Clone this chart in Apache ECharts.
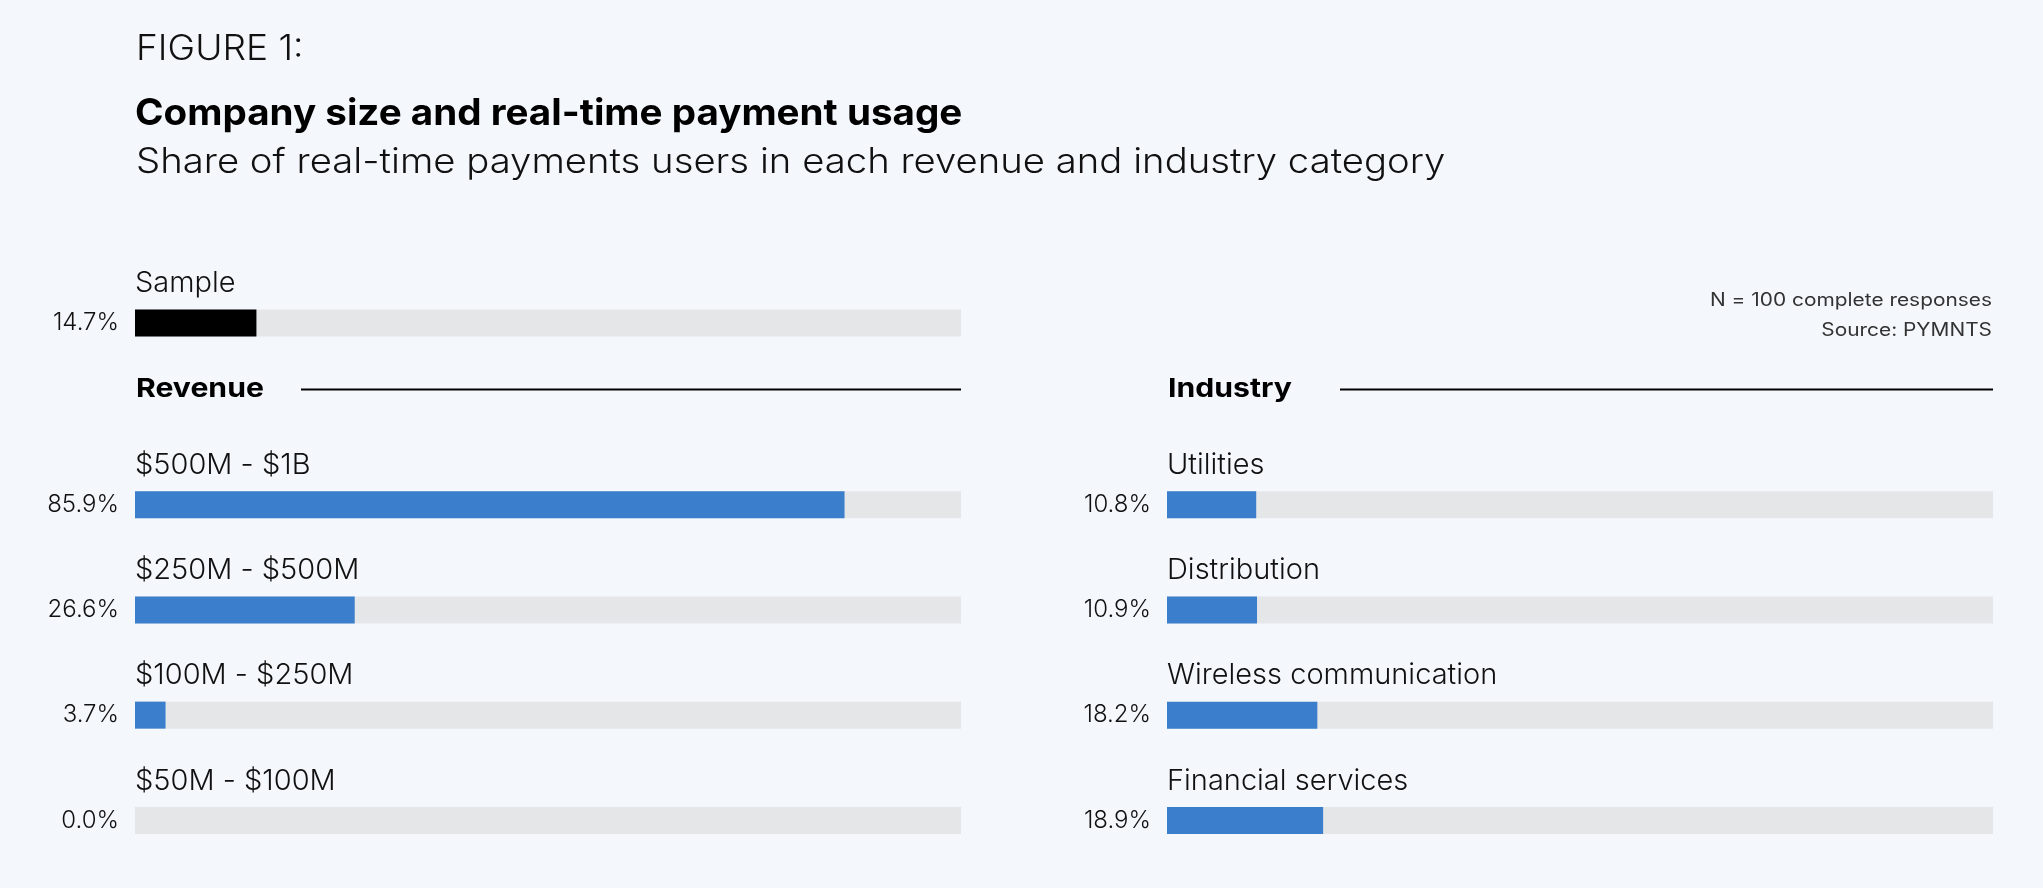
<!DOCTYPE html>
<html>
<head>
<meta charset="utf-8">
<script src="https://cdn.jsdelivr.net/npm/echarts@6/dist/echarts.min.js"></script>
<style>
  html, body { margin: 0; padding: 0; background: #f4f8fc; }
  #chart { width: 2043px; height: 888px; }
</style>
</head>
<body>
<div id="chart"></div>
<script>
// ---- data ----
const sampleCats = ['Sample'];
const sampleVals = [14.7];
const revenueCats = ['$500M - $1B', '$250M - $500M', '$100M - $250M', '$50M - $100M'];
const revenueVals = [85.9, 26.6, 3.7, 0.0];
const industryCats = ['Utilities', 'Distribution', 'Wireless communication', 'Financial services'];
const industryVals = [10.8, 10.9, 18.2, 18.9];
const axisMax = 100;

const FONT = 'Inter, "Noto Sans", sans-serif';
const BLUE = '#3b7fcc';
const TRACK = '#e5e6e8';
const TXT = '#111111';

const chart = echarts.init(document.getElementById('chart'), null, { renderer: 'canvas' });

function xAx(gi) {
  return { type: 'value', gridIndex: gi, min: 0, max: axisMax, show: false };
}
function yAx(gi, cats, vals) {
  return {
    type: 'category', gridIndex: gi, data: cats, inverse: true,
    axisLine: { show: false }, axisTick: { show: false }, splitLine: { show: false },
    axisLabel: {
      margin: 16, fontFamily: FONT, fontSize: 24, fontWeight: 300, color: TXT,
      formatter: (v, i) => vals[i].toFixed(1) + '%'
    }
  };
}
function barSeries(gi, vals, color) {
  return {
    type: 'bar', xAxisIndex: gi, yAxisIndex: gi, data: vals,
    barWidth: 27, showBackground: true,
    backgroundStyle: { color: TRACK },
    itemStyle: { color: color },
    label: {
      show: true, position: [0, -26], formatter: '{b}',
      align: 'left', verticalAlign: 'middle',
      fontFamily: FONT, fontSize: 29, fontWeight: 300, color: TXT
    },
    silent: true
  };
}
function txt(x, y, s, font, fill, sx, align) {
  return {
    type: 'text', x: x, y: y, scaleX: sx, scaleY: 1,
    style: { x: 0, y: 0, text: s, font: font, fill: fill, textAlign: align || 'left', textVerticalAlign: 'middle', verticalAlign: 'middle' }
  };
}

const option = {
  backgroundColor: '#f4f8fc',
  animation: false,
  grid: [
    { left: 135, width: 826, top: 297, height: 52 },
    { left: 135, width: 826, top: 452, height: 421 },
    { left: 1167, width: 826, top: 452, height: 421 }
  ],
  xAxis: [xAx(0), xAx(1), xAx(2)],
  yAxis: [yAx(0, sampleCats, sampleVals), yAx(1, revenueCats, revenueVals), yAx(2, industryCats, industryVals)],
  series: [
    barSeries(0, sampleVals, '#000000'),
    barSeries(1, revenueVals, BLUE),
    barSeries(2, industryVals, BLUE)
  ],
  graphic: [
    txt(136, 49.5, 'FIGURE 1:', '300 35px ' + FONT, '#111', 1.06),
    txt(135, 113.5, 'Company size and real-time payment usage', '700 37px ' + FONT, '#000', 1.043),
    txt(136, 162.5, 'Share of real-time payments users in each revenue and industry category', '300 35px ' + FONT, '#111', 1.094),
    txt(136, 389, 'Revenue', '700 26px ' + FONT, '#000', 1.16),
    txt(1168, 389, 'Industry', '700 26px ' + FONT, '#000', 1.16),
    { type: 'line', shape: { x1: 301, y1: 389.5, x2: 961, y2: 389.5 }, style: { stroke: '#000', lineWidth: 2 } },
    { type: 'line', shape: { x1: 1340, y1: 389.5, x2: 1993, y2: 389.5 }, style: { stroke: '#000', lineWidth: 2 } },
    txt(1992, 301, 'N = 100 complete responses', '400 18px ' + FONT, '#333', 1.16, 'right'),
    txt(1992, 331, 'Source: PYMNTS', '400 18px ' + FONT, '#333', 1.16, 'right')
  ]
};
chart.setOption(option);
</script>
</body>
</html>
